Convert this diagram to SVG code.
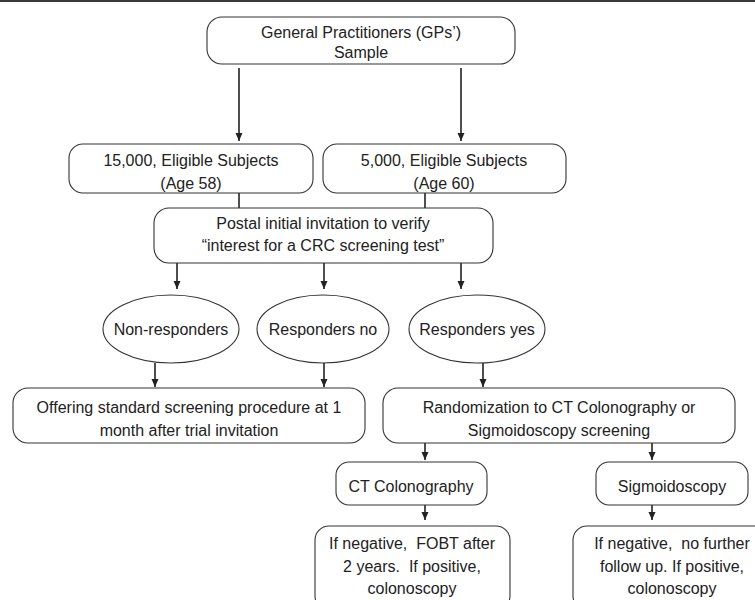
<svg xmlns="http://www.w3.org/2000/svg" width="755" height="600" viewBox="0 0 755 600">
<defs>
<marker id="ah" viewBox="0 0 8 10" refX="8" refY="5" markerWidth="8" markerHeight="10" markerUnits="userSpaceOnUse" orient="auto">
<path d="M0,1.5 L8,5 L0,8.5 z" fill="#222"/>
</marker>
<style>
.box{fill:#fff;stroke:#333;stroke-width:1.1}
.t{font-family:"Liberation Sans",Arial,Helvetica,sans-serif;font-size:16px;fill:#222;text-anchor:middle;white-space:pre}
.c{stroke:#222;stroke-width:1.6;fill:none}
.ca{stroke:#222;stroke-width:1.6;fill:none;marker-end:url(#ah)}
</style>
</defs>
<rect x="0" y="0" width="755" height="2" fill="#3a3a3a"/>
<g id="connectors">
<line class="ca" x1="239" y1="68" x2="239" y2="141"/>
<line class="ca" x1="461" y1="68" x2="461" y2="141"/>
<line class="c" x1="239" y1="193" x2="239" y2="208"/>
<line class="c" x1="425" y1="193" x2="425" y2="208"/>
<line class="ca" x1="177" y1="263" x2="177" y2="289"/>
<line class="ca" x1="324" y1="263" x2="324" y2="289"/>
<line class="ca" x1="461" y1="263" x2="461" y2="289"/>
<line class="ca" x1="155" y1="363" x2="155" y2="387"/>
<line class="ca" x1="324" y1="363" x2="324" y2="387"/>
<line class="ca" x1="483" y1="363" x2="483" y2="387"/>
<line class="ca" x1="425" y1="443" x2="425" y2="460"/>
<line class="ca" x1="652" y1="443" x2="652" y2="460"/>
<line class="ca" x1="425" y1="505" x2="425" y2="520"/>
<line class="ca" x1="652" y1="505" x2="652" y2="520"/>
</g>
<g id="gp">
<rect class="box" x="207" y="17" width="308" height="47" rx="15"/>
<text class="t" x="361" y="38">General Practitioners (GPs’)</text>
<text class="t" x="361" y="58">Sample</text>
</g>
<g id="elig15000">
<rect class="box" x="69" y="144" width="244" height="49" rx="14"/>
<text class="t" x="191" y="166">15,000, Eligible Subjects</text>
<text class="t" x="191" y="189">(Age 58)</text>
</g>
<g id="elig5000">
<rect class="box" x="323" y="144" width="243" height="49" rx="14"/>
<text class="t" x="444" y="166">5,000, Eligible Subjects</text>
<text class="t" x="444" y="189">(Age 60)</text>
</g>
<g id="postal">
<rect class="box" x="154" y="208" width="339" height="55" rx="15"/>
<text class="t" x="323" y="229">Postal initial invitation to verify</text>
<text class="t" x="323" y="251">“interest for a CRC screening test”</text>
</g>
<g id="nonresp">
<ellipse class="box" cx="171" cy="329" rx="68" ry="34"/>
<text class="t" x="171" y="335">Non-responders</text>
</g>
<g id="respno">
<ellipse class="box" cx="323" cy="329" rx="66" ry="34"/>
<text class="t" x="323" y="335">Responders no</text>
</g>
<g id="respyes">
<ellipse class="box" cx="477" cy="329" rx="68" ry="34"/>
<text class="t" x="477" y="335">Responders yes</text>
</g>
<g id="offering">
<rect class="box" x="13" y="388" width="352" height="55" rx="15"/>
<text class="t" x="189" y="413">Offering standard screening procedure at 1</text>
<text class="t" x="189" y="436">month after trial invitation</text>
</g>
<g id="random">
<rect class="box" x="383" y="388" width="352" height="55" rx="15"/>
<text class="t" x="559" y="413">Randomization to CT Colonography or</text>
<text class="t" x="559" y="436">Sigmoidoscopy screening</text>
</g>
<g id="ctc">
<rect class="box" x="336" y="462" width="151" height="43" rx="13"/>
<text class="t" x="411" y="492">CT Colonography</text>
</g>
<g id="sigmo">
<rect class="box" x="596" y="462" width="152" height="43" rx="13"/>
<text class="t" x="672" y="492">Sigmoidoscopy</text>
</g>
<g id="ctcresult">
<rect class="box" x="315" y="526" width="195" height="84" rx="14"/>
<text class="t" x="412" y="549">If negative,  FOBT after</text>
<text class="t" x="412" y="572">2 years.  If positive,</text>
<text class="t" x="412" y="594">colonoscopy</text>
</g>
<g id="sigmoresult">
<rect class="box" x="573" y="526" width="200" height="84" rx="14"/>
<text class="t" x="672" y="549">If negative,  no further</text>
<text class="t" x="672" y="572">follow up. If positive,</text>
<text class="t" x="672" y="594">colonoscopy</text>
</g>
</svg>
